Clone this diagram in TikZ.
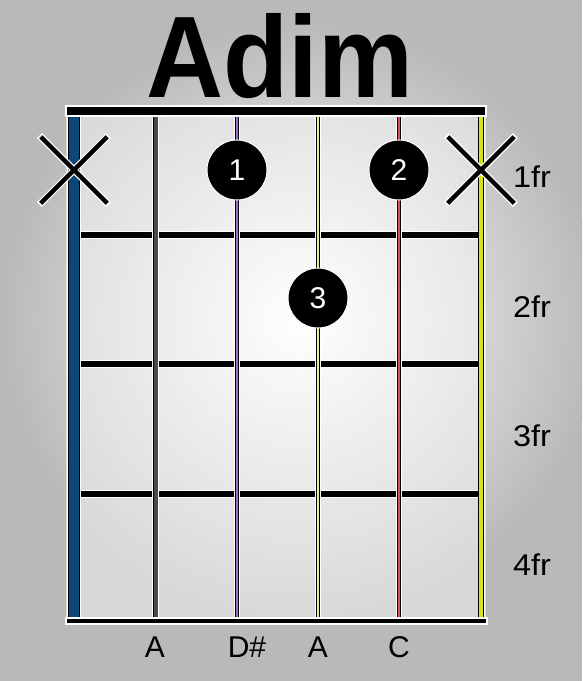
\documentclass[tikz,border=0pt]{standalone}
\usepackage{fontspec}
\setmainfont{Liberation Sans}
\usepackage{tikz}
\usetikzlibrary{shapes.misc}

\definecolor{strA}{HTML}{0E4677}
\definecolor{strB}{HTML}{504848}
\definecolor{strC}{HTML}{9B6FD6}
\definecolor{strD}{HTML}{E4F2A0}
\definecolor{strE}{HTML}{E0505A}
\definecolor{strF}{HTML}{D4E41C}

\begin{document}
\begin{tikzpicture}[x=1pt, y=-1pt,
    fret/.style={line width=6pt},
    mute/.style={draw, cross out, minimum size=62pt, inner sep=0pt, line width=4.5pt},
    finger/.style={circle, fill=black, draw=white, line width=1pt, minimum size=60pt,
        inner sep=0pt, text=white, font=\fontsize{30}{36}\selectfont},
    label/.style={font=\fontsize{30}{36}\selectfont, inner sep=0pt}]
    \useasboundingbox (0,0) rectangle (582,681);
    % 背景 - 径向渐变
    \fill[gray!55] (0,0) rectangle (582,681);
    \begin{scope}
        \clip (0,0) rectangle (582,681);
        \shade[inner color=white, outer color=gray!55] (300,320) circle (300pt);
    \end{scope}
    \fill[white, opacity=0.45] (66,116) rectangle (486,618);

    % 琴弦端点
    \foreach \i/\x in {1/74, 2/155.5, 3/237, 4/318, 5/399, 6/481} {
        \coordinate (t\i) at (\x,116);
        \coordinate (b\i) at (\x,618);
    }

    % 品丝 - 白边 + 黑线
    \foreach \j/\y in {1/235, 2/364, 3/494} {
        \coordinate (fl\j) at (80,\y);
        \coordinate (fr\j) at (478,\y);
        \draw[fret, white, line width=8.5pt] (fl\j) -- (fr\j);
        \draw[fret] (fl\j) -- (fr\j);
    }

    % 琴弦 - 白边 + 黑边 + 彩色
    \foreach \i/\c/\w in {1/strA/10, 2/strB/4, 3/strC/2.5, 4/strD/2.5, 5/strE/2.5, 6/strF/3.5} {
        \draw[white, line width=\w pt+3.5pt] (t\i) -- (b\i);
        \draw[black, line width=\w pt+1.6pt] (t\i) -- (b\i);
        \draw[\c, line width=\w pt] (t\i) -- (b\i);
    }

    % 琴枕 + 底边
    \fill[black, draw=white, line width=1.2pt] (66,106) rectangle (486,116);
    \fill[black, draw=white, line width=1.2pt] (66,618) rectangle (487,624);

    % 空弦不弹
    \foreach \i in {1,6} {
        \node[mute, white, line width=7pt] at (t\i |- 0,170) {};
        \node[mute] (m\i) at (t\i |- 0,170) {};
    }

    % 指法
    \node[finger] (d1) at (t3 |- 0,170) {1};
    \node[finger] (d2) at (t5 |- 0,170) {2};
    \node[finger] (d3) at (t4 |- 0,298) {3};

    % 标题
    \node[font=\bfseries\fontsize{116}{120}\selectfont, anchor=base, xscale=0.92,
        inner sep=0pt] (title) at (279.5,97) {Adim};

    % 品位
    \foreach \k/\y in {1/187, 2/317, 3/446, 4/575}
        \node[label, anchor=base west, xscale=1.08] (fr\k) at (513,\y) {\k fr};

    % 音名
    \node[label, anchor=base] (n2) at (155,657) {A};
    \node[label, anchor=base] (n3) at (247,657) {D\#};
    \node[label, anchor=base] (n4) at (318,657) {A};
    \node[label, anchor=base] (n5) at (399,657) {C};
\end{tikzpicture}
\end{document}
